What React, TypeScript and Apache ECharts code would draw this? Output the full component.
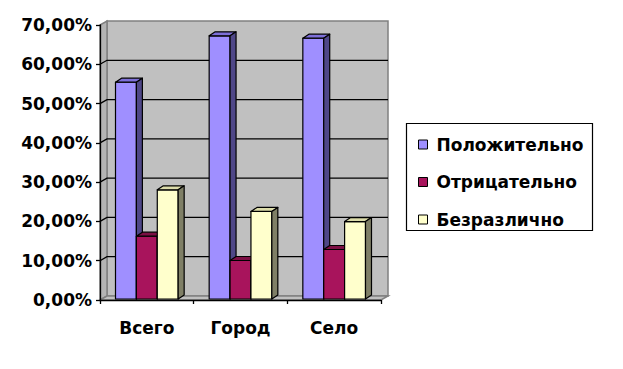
import React, { useEffect, useRef } from "react";
import * as echarts from "echarts";

const categories = ["Всего", "Город", "Село"];
const seriesNames = ["Положительно", "Отрицательно", "Безразлично"];
const positive = [55.2, 67.0, 66.4];
const negative = [16.0, 9.8, 12.6];
const indifferent = [27.8, 22.3, 19.7];
const yTicks = [0, 10, 20, 30, 40, 50, 60, 70];

const palettes = [
  { front: "#9f8fff", top: "#7d6fd9", side: "#4f4788" },
  { front: "#a8145c", top: "#7c0f44", side: "#520a2d" },
  { front: "#ffffcc", top: "#dcdcaa", side: "#7f7f66" },
];

const DX = 6;
const DY = -4;
const WALL_DX = 7;
const WALL_DY = -4;
const BAR_FRAC = 0.223;
const FONT = "DejaVu Sans";
const FS = 17;

function barSeries(name: string, values: number[], idx: number) {
  const pal = palettes[idx];
  return {
    type: "custom",
    name,
    z: 3,
    data: values.map((v, i) => [i, v]),
    encode: { x: 0, y: 1 },
    itemStyle: { color: pal.front, borderColor: "#000", borderWidth: 1 },
    renderItem: (params: any, api: any) => {
      const ci = api.value(0);
      const v = api.value(1);
      const top = api.coord([ci, v]);
      const base = api.coord([ci, 0]);
      const band = api.size([1, 0])[0];
      const bw = band * BAR_FRAC;
      const x0 = top[0] - 1.5 * bw + idx * bw;
      const x1 = x0 + bw;
      const y0 = top[1] - 1;
      const y1 = base[1] - 1;
      const stroke = { stroke: "#000", lineWidth: 1.2, lineJoin: "round" };
      return {
        type: "group",
        children: [
          {
            type: "polygon",
            shape: { points: [[x0, y0], [x1, y0], [x1, y1], [x0, y1]] },
            style: { fill: pal.front, ...stroke },
          },
          {
            type: "polygon",
            shape: { points: [[x0, y0], [x0 + DX, y0 + DY], [x1 + DX, y0 + DY], [x1, y0]] },
            style: { fill: pal.top, ...stroke },
          },
          {
            type: "polygon",
            shape: { points: [[x1, y0], [x1 + DX, y0 + DY], [x1 + DX, y1 + DY], [x1, y1]] },
            style: { fill: pal.side, ...stroke },
          },
        ],
      };
    },
  };
}

const wallSeries = {
  type: "custom",
  name: "walls",
  z: 1,
  silent: true,
  data: [[0, 0]],
  encode: { x: 0, y: 1 },
  renderItem: (params: any, api: any) => {
    const cs = params.coordSys;
    const L = cs.x;
    const R = cs.x + cs.width;
    const T = cs.y;
    const B = cs.y + cs.height;
    const children: any[] = [];
    children.push({
      type: "polygon",
      shape: {
        points: [
          [L + WALL_DX, T + WALL_DY],
          [R + WALL_DX, T + WALL_DY],
          [R + WALL_DX, B + WALL_DY],
          [L + WALL_DX, B + WALL_DY],
        ],
      },
      style: { fill: "#c0c0c0", stroke: "#808080", lineWidth: 1.5 },
    });
    children.push({
      type: "polygon",
      shape: {
        points: [
          [L, T],
          [L + WALL_DX, T + WALL_DY],
          [L + WALL_DX, B + WALL_DY],
          [L, B],
        ],
      },
      style: { fill: "#b4b4b4", stroke: "#808080", lineWidth: 1.5 },
    });
    children.push({
      type: "polygon",
      shape: {
        points: [
          [L, B],
          [R, B],
          [R + WALL_DX, B + WALL_DY],
          [L + WALL_DX, B + WALL_DY],
        ],
      },
      style: { fill: "#c0c0c0", stroke: "#808080", lineWidth: 1.5 },
    });
    yTicks.forEach((t) => {
      if (t === 0 || t === yTicks[yTicks.length - 1]) return;
      const y = api.coord([0, t])[1];
      children.push({
        type: "polyline",
        shape: {
          points: [
            [L, y],
            [L + WALL_DX, y + WALL_DY],
            [R + WALL_DX, y + WALL_DY],
          ],
        },
        style: { fill: "none", stroke: "#000", lineWidth: 1.3 },
      });
    });
    return { type: "group", children };
  },
};

export default function App() {
  const ref = useRef<HTMLDivElement>(null);
  useEffect(() => {
    if (!ref.current) return;
    const chart = echarts.init(ref.current, null, { renderer: "svg" });
    chart.setOption({
      animation: false,
      backgroundColor: "#ffffff",
      grid: { left: 100, top: 25, width: 281, height: 275 },
      legend: {
        show: true,
        orient: "vertical",
        left: 413,
        top: 131,
        icon: "rect",
        itemWidth: 9,
        itemHeight: 9,
        itemGap: 20.5,
        data: seriesNames.map((n) => ({ name: n, itemStyle: { borderColor: "#000", borderWidth: 1 } })),
        textStyle: { fontFamily: FONT, fontWeight: "bold", fontSize: FS, color: "#000", padding: [0, 0, 0, 4] },
      },
      graphic: [
        {
          type: "rect",
          shape: { x: 406.5, y: 123.5, width: 186, height: 107 },
          style: { fill: "none", stroke: "#000", lineWidth: 1.2 },
          z: 10,
        },
      ],
      xAxis: {
        type: "category",
        data: categories,
        z: 5,
        axisLine: { show: true, lineStyle: { color: "#000", width: 1.3 } },
        axisTick: { show: true, length: 4, lineStyle: { color: "#000", width: 1.3 } },
        axisLabel: { fontFamily: FONT, fontWeight: "bold", fontSize: FS, color: "#000", margin: 19 },
        splitLine: { show: false },
      },
      yAxis: {
        type: "value",
        min: 0,
        max: 70,
        interval: 10,
        z: 5,
        axisLine: { show: true, lineStyle: { color: "#000", width: 1.3 } },
        axisTick: { show: true, length: 4, lineStyle: { color: "#000", width: 1.3 } },
        axisLabel: {
          fontFamily: FONT,
          fontWeight: "bold",
          fontSize: FS,
          color: "#000",
          margin: 8,
          formatter: (v: number) => v.toFixed(2).replace(".", ",") + "%",
        },
        splitLine: { show: false },
      },
      series: [
        wallSeries,
        barSeries(seriesNames[0], positive, 0),
        barSeries(seriesNames[1], negative, 1),
        barSeries(seriesNames[2], indifferent, 2),
      ],
    });
    return () => chart.dispose();
  }, []);
  return <div ref={ref} style={{ position: "absolute", left: 0, top: 0, width: 623, height: 369 }} />;
}
